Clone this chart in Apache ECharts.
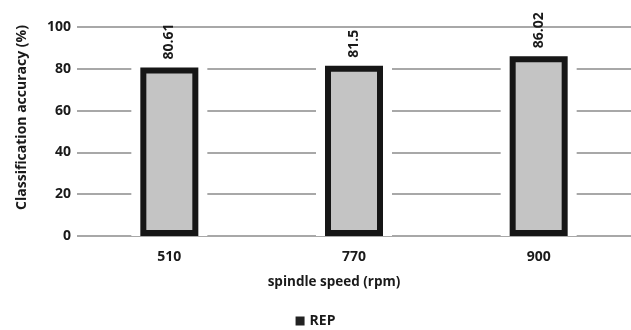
<!DOCTYPE html>
<html>
<head>
<meta charset="utf-8">
<script src="https://cdn.jsdelivr.net/npm/echarts@6/dist/echarts.min.js"></script>
<style>
  html, body { margin: 0; padding: 0; background: #fff; }
  #chart { width: 631px; height: 330px; }
</style>
</head>
<body>
<div id="chart"></div>
<script>
const speeds = ['510', '770', '900'];
const repAccuracy = [80.61, 81.5, 86.02];
const yTicks = [0, 20, 40, 60, 80, 100];

const chart = echarts.init(document.getElementById('chart'));
const font = 'Open Sans';
const ink = '#1a1a1a';

chart.setOption({
    animation: false,
    textStyle: { fontFamily: font },
    grid: { left: 77, top: 27, width: 562, height: 209 },
    legend: {
        data: ['REP'],
        top: 309,
        left: 'center',
        icon: 'rect',
        itemWidth: 9,
        itemHeight: 9,
        itemGap: 4,
        itemStyle: { color: '#222', borderWidth: 0 },
        textStyle: { fontFamily: font, fontSize: 14, fontWeight: 'bold', color: ink }
    },
    xAxis: [{
        type: 'category',
        data: speeds,
        name: 'spindle speed (rpm)',
        nameLocation: 'middle',
        nameGap: 39,
        nameTextStyle: { fontFamily: font, fontSize: 13.5, fontWeight: 'bold', color: ink, padding: [0, 40, 0, 0] },
        axisLine: { show: false },
        axisTick: { show: false },
        axisLabel: { margin: 14, fontFamily: font, fontSize: 14, fontWeight: 'bold', color: ink }
    }, {
        type: 'category',
        data: speeds,
        show: false
    }],
    yAxis: {
        type: 'value',
        min: yTicks[0],
        max: yTicks[yTicks.length - 1],
        interval: 20,
        name: 'Classification accuracy (%)',
        nameLocation: 'middle',
        nameGap: 48,
        nameTextStyle: { fontFamily: font, fontSize: 14, fontWeight: 'bold', color: ink, padding: [0, 0, 0, 28] },
        axisLine: { show: false },
        axisTick: { show: false },
        axisLabel: { margin: 6, fontFamily: font, fontSize: 14, fontWeight: 'bold', color: ink },
        splitLine: { lineStyle: { color: '#a8a8a8', width: 2 } }
    },
    series: [
        {
            name: 'gap',
            type: 'bar',
            xAxisIndex: 1,
            data: repAccuracy,
            barWidth: 76,
            silent: true,
            itemStyle: { color: '#fff' }
        },
        {
            name: 'REP',
            type: 'bar',
            data: repAccuracy,
            barWidth: 58,
            z: 3,
            itemStyle: { color: '#c4c4c4', borderColor: '#161616', borderWidth: 6 },
            label: {
                show: true,
                position: 'top',
                rotate: 90,
                align: 'left',
                verticalAlign: 'middle',
                distance: 8,
                fontFamily: font,
                fontSize: 14,
                fontWeight: 'bold',
                color: ink
            }
        }
    ]
});
</script>
</body>
</html>
